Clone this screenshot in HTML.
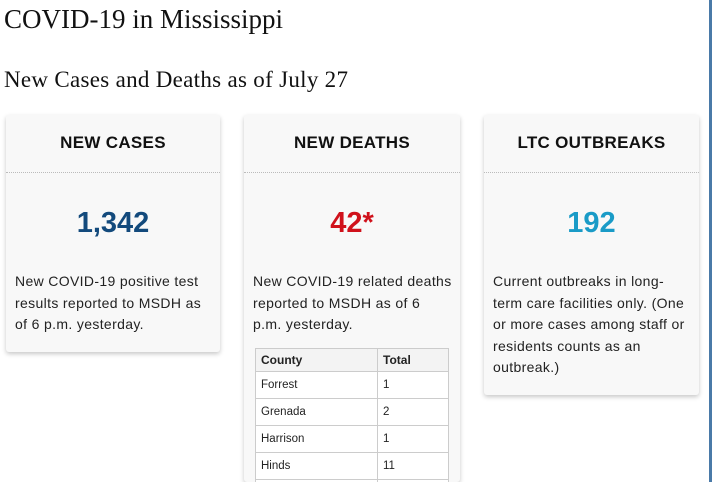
<!DOCTYPE html>
<html><head><style>
*{margin:0;padding:0;box-sizing:border-box}
html,body{width:713px;height:482px;overflow:hidden}
body{background:#fff;position:relative;font-family:"Liberation Sans",sans-serif;color:#222}
.t1{position:absolute;left:4px;top:4px;font:27px "Liberation Serif",serif;color:#111}
.t2{position:absolute;left:4px;top:67px;font:23px "Liberation Serif",serif;color:#111;letter-spacing:0.3px}
.card{position:absolute;background:#f8f8f8;box-shadow:0 2px 5px rgba(0,0,0,0.22);border-radius:3px;overflow:hidden}
.hd{position:absolute;left:0;right:0;top:0;height:58px;border-bottom:1px dotted #bbb;text-align:center;font-weight:bold;font-size:17px;line-height:56px;color:#111;letter-spacing:0.3px}
.num{position:absolute;left:0;right:0;top:92px;text-align:center;font-weight:bold;font-size:29px}
.txt{position:absolute;left:9px;right:6px;top:156px;font-size:14px;line-height:21.5px;color:#222;letter-spacing:0.35px}
.bar{position:absolute;left:709px;top:0;width:3px;height:482px;background:#4a7aa8}
table{position:absolute;left:11px;top:233px;width:194px;border-collapse:collapse;font-size:11.5px;background:#fff}
td,th{border:1px solid #ccc;padding:0 5px;height:27px;text-align:left}
th{height:23px;background:#f3f3f3;font-weight:bold;font-size:12px;color:#222}
td:first-child,th:first-child{width:122px}
</style></head><body>
<div class="t1">COVID-19 in Mississippi</div>
<div class="t2">New Cases and Deaths as of July 27</div>
<div class="card" style="left:6px;top:115px;width:214px;height:237px">
<div class="hd">NEW CASES</div>
<div class="num" style="color:#134a7c">1,342</div>
<div class="txt">New COVID-19 positive test results reported to MSDH as of 6 p.m. yesterday.</div>
</div>
<div class="card" style="left:244px;top:115px;width:216px;height:367px">
<div class="hd">NEW DEATHS</div>
<div class="num" style="color:#d0111b">42*</div>
<div class="txt" style="right:0">New COVID-19 related deaths<br>reported to MSDH as of 6<br>p.m. yesterday.</div>
<table>
<tr><th>County</th><th>Total</th></tr>
<tr><td>Forrest</td><td>1</td></tr>
<tr><td>Grenada</td><td>2</td></tr>
<tr><td>Harrison</td><td>1</td></tr>
<tr><td>Hinds</td><td>11</td></tr>
<tr><td>&nbsp;</td><td></td></tr>
</table>
</div>
<div class="card" style="left:484px;top:115px;width:215px;height:280px">
<div class="hd">LTC OUTBREAKS</div>
<div class="num" style="color:#1a9bc7">192</div>
<div class="txt">Current outbreaks in long-term care facilities only. (One or more cases among staff or residents counts as an outbreak.)</div>
</div>
<div class="bar"></div>
</body></html>
